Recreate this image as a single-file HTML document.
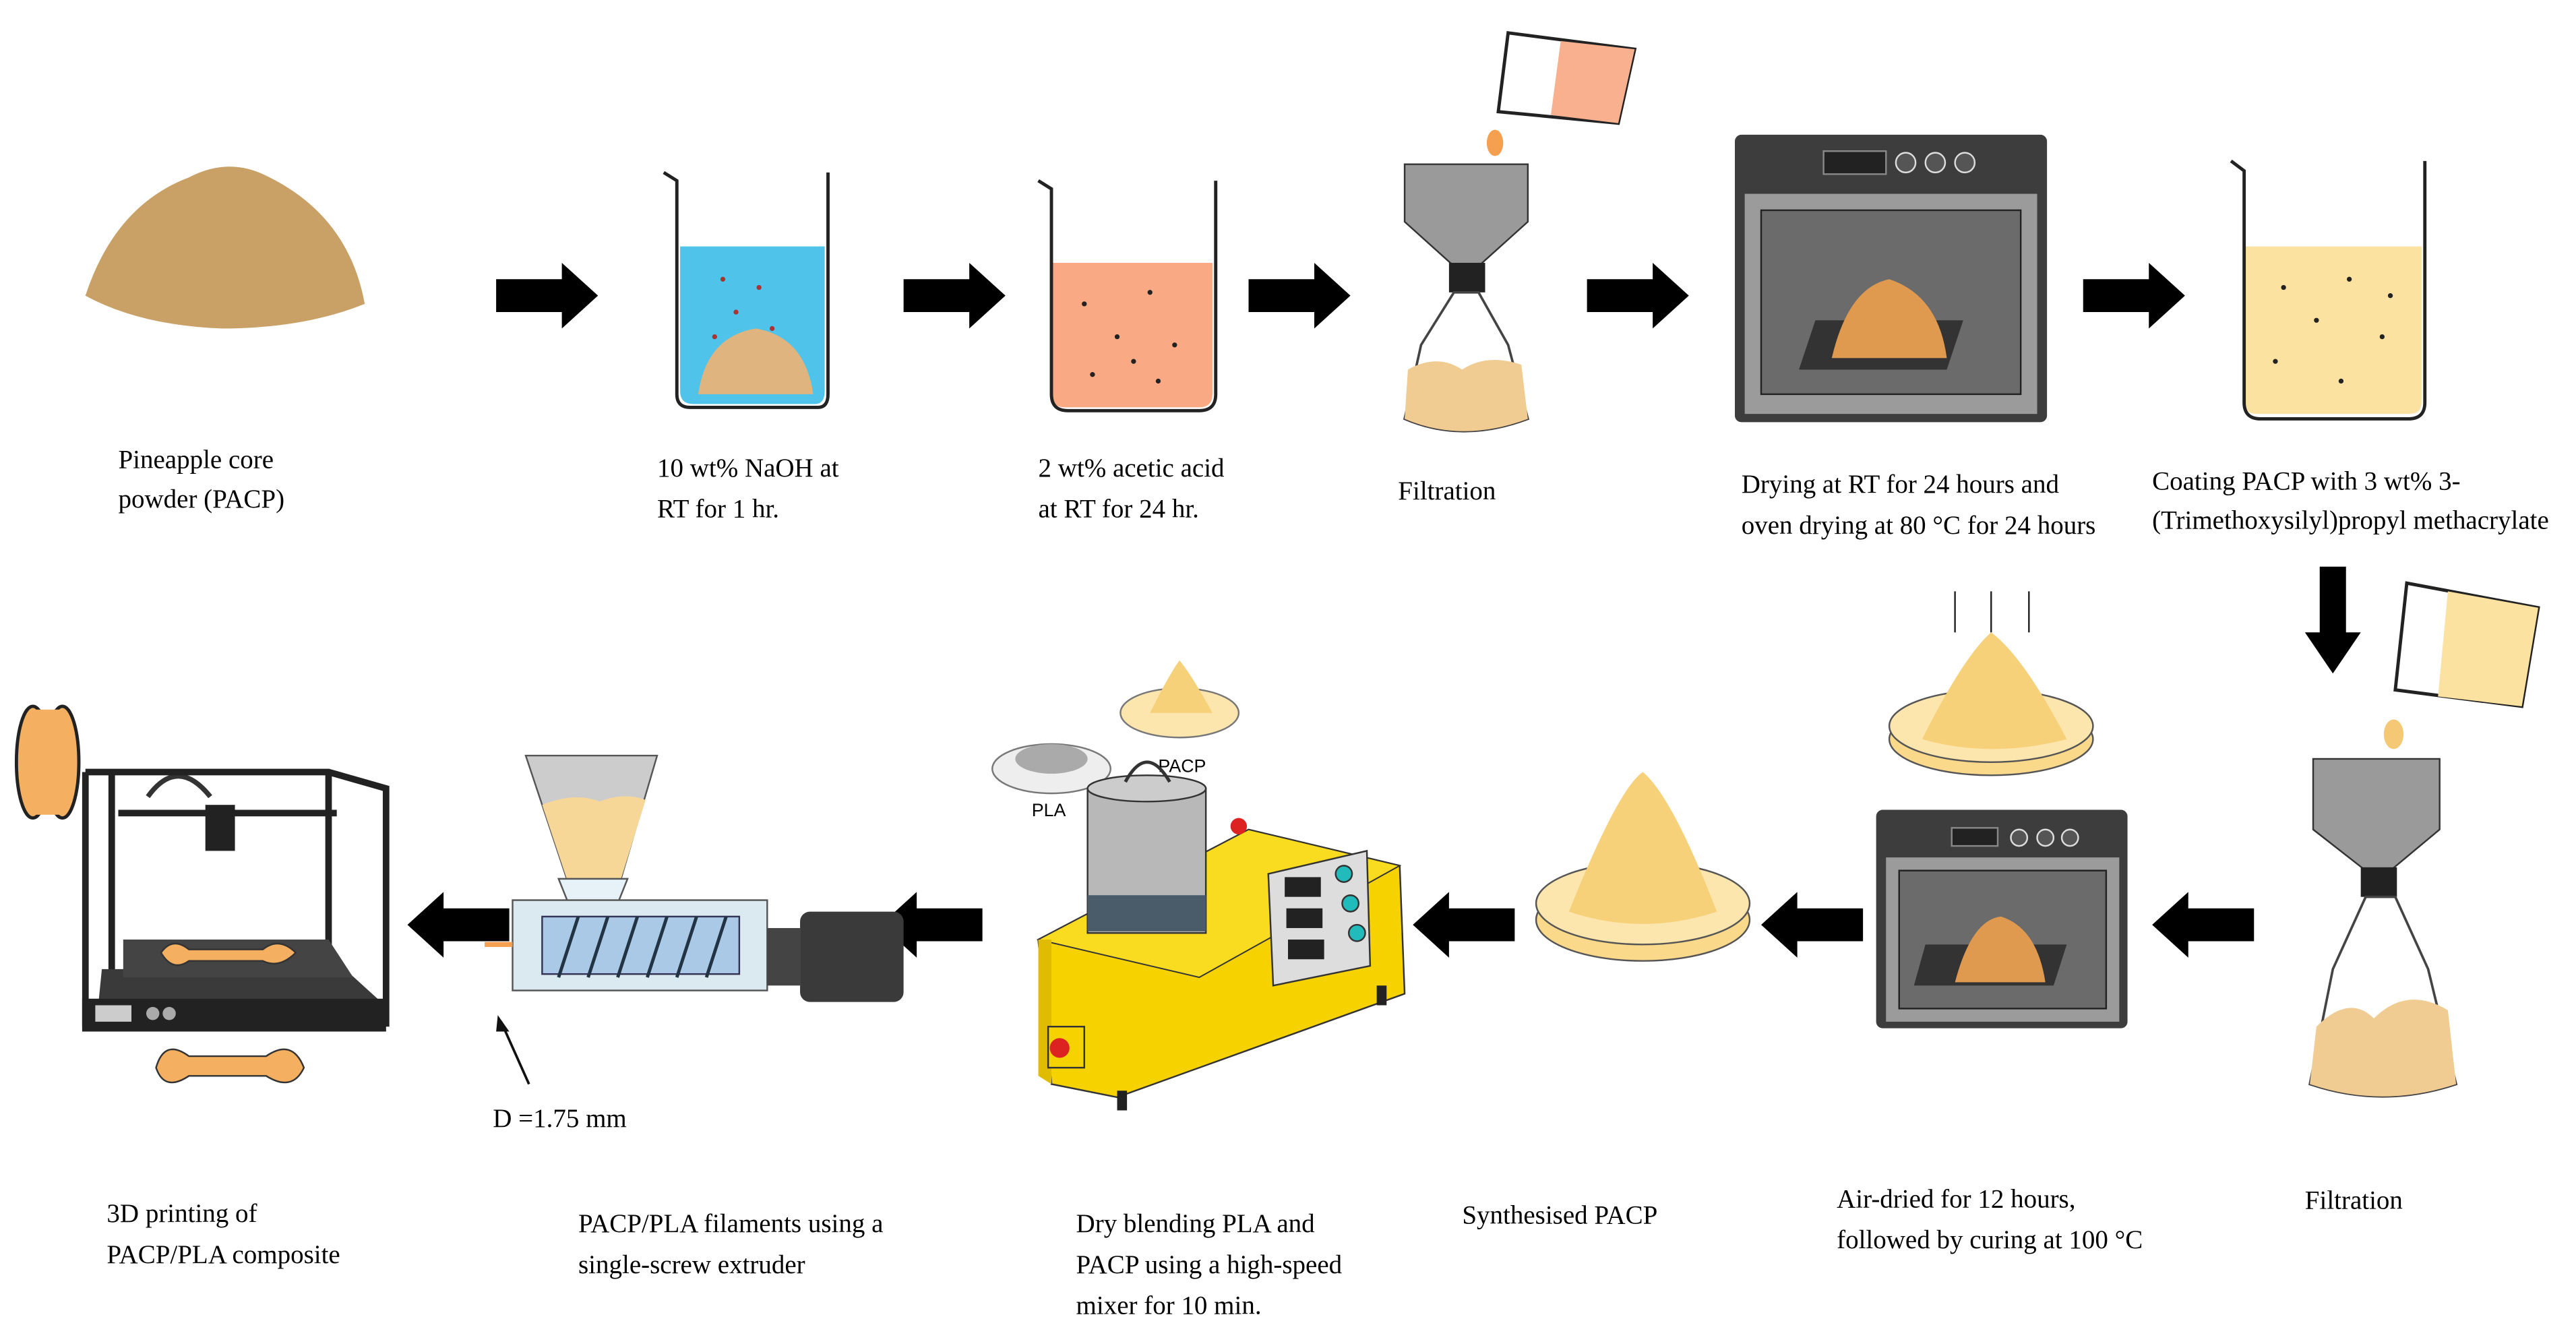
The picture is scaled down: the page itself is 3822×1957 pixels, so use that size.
<!DOCTYPE html>
<html><head><meta charset="utf-8"><style>
html,body{margin:0;padding:0;background:#fff;width:3822px;height:1957px;overflow:hidden}
svg{display:block}
</style></head><body>
<svg width="3822" height="1957" viewBox="0 0 1568 803" preserveAspectRatio="none" xmlns="http://www.w3.org/2000/svg" font-family="Liberation Serif, serif" font-size="16">
<defs>
<g id="arR"><polygon points="0,-10 40,-10 40,-20 62,0 40,20 40,10 0,10" fill="#000"/></g>
<g id="arL"><polygon points="0,-10 -40,-10 -40,-20 -62,0 -40,20 -40,10 0,10" fill="#000"/></g>
</defs>
<!-- powder -->
<path d="M52,180 Q70,125 115,108 Q138,96 160,106 Q212,130 222,185 Q185,200 135,200 Q85,198 52,180Z" fill="#c9a066"/>
<!-- arrows row1 -->
<use href="#arR" x="302" y="180"/><use href="#arR" x="550" y="180"/><use href="#arR" x="760" y="180"/><use href="#arR" x="966" y="180"/><use href="#arR" x="1268" y="180"/>
<!-- beaker1 -->
<path d="M414,150 L414,238 Q414,246 422,246 L496,246 Q502,246 502,238 L502,150Z" fill="#4fc3ea"/>
<path d="M425,240 Q430,205 460,200 Q490,205 495,240Z" fill="#e0b47e"/>
<path d="M404,105 L412,110 L412,240 Q412,248 420,248 L498,248 Q504,248 504,240 L504,105" fill="none" stroke="#222" stroke-width="2"/>
<g fill="#a33"><circle cx="440" cy="170" r="1.5"/><circle cx="462" cy="175" r="1.5"/><circle cx="448" cy="190" r="1.5"/><circle cx="470" cy="200" r="1.5"/><circle cx="435" cy="205" r="1.5"/></g>
<!-- beaker2 -->
<path d="M640,160 L640,240 Q640,248 648,248 L730,248 Q738,248 738,240 L738,160Z" fill="#f9a983"/>
<path d="M632,110 L640,115 L640,240 Q640,250 650,250 L730,250 Q740,250 740,240 L740,110" fill="none" stroke="#222" stroke-width="2"/>
<g fill="#222"><circle cx="660" cy="185" r="1.5"/><circle cx="700" cy="178" r="1.5"/><circle cx="680" cy="205" r="1.5"/><circle cx="715" cy="210" r="1.5"/><circle cx="665" cy="228" r="1.5"/><circle cx="705" cy="232" r="1.5"/><circle cx="690" cy="220" r="1.5"/></g>
<!-- filtration1 -->
<path d="M918,20 L995,30 L985,75 L912,68Z" fill="#fff" stroke="#222" stroke-width="2"/>
<path d="M950,25 L995,30 L985,75 L944,70Z" fill="#f8b08e"/>
<ellipse cx="910" cy="87" rx="5" ry="8" fill="#f4a050"/>
<path d="M855,100 L930,100 L930,135 L900,162 L885,162 L855,135Z" fill="#9a9a9a" stroke="#333"/>
<rect x="882" y="160" width="22" height="18" fill="#222"/>
<path d="M885,178 L865,210 L855,255 Q890,270 930,255 L918,210 L900,178Z" fill="#fff" stroke="#444" stroke-width="1.5"/>
<path d="M857,225 Q875,215 890,225 Q905,215 926,222 L930,255 Q890,270 855,255Z" fill="#f1cc92"/>
<!-- oven1 -->
<rect x="1056" y="82" width="190" height="175" rx="4" fill="#3d3d3d"/>
<rect x="1062" y="118" width="178" height="134" fill="#9b9b9b"/>
<rect x="1072" y="128" width="158" height="112" fill="#6b6b6b" stroke="#222"/>
<rect x="1110" y="92" width="38" height="14" fill="#222" stroke="#888"/>
<circle cx="1160" cy="99" r="6" fill="#555" stroke="#ddd"/><circle cx="1178" cy="99" r="6" fill="#555" stroke="#ddd"/><circle cx="1196" cy="99" r="6" fill="#555" stroke="#ddd"/>
<path d="M1095,225 L1185,225 L1195,195 L1105,195Z" fill="#333"/>
<path d="M1115,218 Q1125,175 1150,170 Q1180,180 1185,218Z" fill="#e09a50"/>
<!-- beaker3 -->
<path d="M1366,150 L1366,245 Q1366,252 1374,252 L1466,252 Q1474,252 1474,245 L1474,150Z" fill="#fbe2a0"/>
<path d="M1358,98 L1366,104 L1366,245 Q1366,255 1376,255 L1466,255 Q1476,255 1476,245 L1476,98" fill="none" stroke="#222" stroke-width="2"/>
<g fill="#222"><circle cx="1390" cy="175" r="1.5"/><circle cx="1430" cy="170" r="1.5"/><circle cx="1410" cy="195" r="1.5"/><circle cx="1450" cy="205" r="1.5"/><circle cx="1385" cy="220" r="1.5"/><circle cx="1425" cy="232" r="1.5"/><circle cx="1455" cy="180" r="1.5"/></g>
<!-- row1 labels -->
<text x="72" y="285">Pineapple core</text><text x="72" y="309">powder (PACP)</text>
<text x="400" y="290">10 wt% NaOH at</text><text x="400" y="315">RT for 1 hr.</text>
<text x="632" y="290">2 wt% acetic acid</text><text x="632" y="315">at RT for 24 hr.</text>
<text x="851" y="304">Filtration</text>
<text x="1060" y="300">Drying at RT for 24 hours and</text><text x="1060" y="325">oven drying at 80 °C for 24 hours</text>
<text x="1310" y="298">Coating PACP  with 3 wt% 3-</text><text x="1310" y="322">(Trimethoxysilyl)propyl methacrylate</text>
<!-- down arrow -->
<polygon points="1412,345 1428,345 1428,385 1437,385 1420,410 1403,385 1412,385" fill="#000"/>
<!-- filtration2 -->
<path d="M1465,355 L1545,370 L1535,430 L1458,420Z" fill="#fff" stroke="#222" stroke-width="2"/>
<path d="M1490,360 L1545,370 L1535,430 L1484,424Z" fill="#fbe2a0"/>
<ellipse cx="1457" cy="447" rx="6" ry="9" fill="#f4c874"/>
<path d="M1408,462 L1485,462 L1485,505 L1455,530 L1440,530 L1408,505Z" fill="#9a9a9a" stroke="#333"/>
<rect x="1437" y="528" width="22" height="18" fill="#222"/>
<path d="M1440,546 L1420,590 L1406,660 Q1450,675 1495,660 L1478,590 L1458,546Z" fill="#fff" stroke="#444" stroke-width="1.5"/>
<path d="M1410,625 Q1430,605 1445,620 Q1465,600 1490,615 L1495,660 Q1450,675 1406,660Z" fill="#f1cc92"/>
<!-- row2 arrows -->
<use href="#arL" x="1372" y="563"/><use href="#arL" x="1134" y="563"/><use href="#arL" x="922" y="563"/><use href="#arL" x="598" y="563"/><use href="#arL" x="310" y="563"/>
<!-- oven2 -->
<rect x="1142" y="493" width="153" height="133" rx="4" fill="#3d3d3d"/>
<rect x="1148" y="522" width="142" height="100" fill="#9b9b9b"/>
<rect x="1156" y="530" width="126" height="84" fill="#6b6b6b" stroke="#222"/>
<rect x="1188" y="504" width="28" height="11" fill="#222" stroke="#888"/>
<circle cx="1229" cy="510" r="5" fill="#555" stroke="#ddd"/><circle cx="1245" cy="510" r="5" fill="#555" stroke="#ddd"/><circle cx="1260" cy="510" r="5" fill="#555" stroke="#ddd"/>
<path d="M1165,600 L1250,600 L1258,575 L1172,575Z" fill="#333"/>
<path d="M1190,598 Q1200,560 1218,558 Q1240,565 1245,598Z" fill="#e09a50"/>
<!-- dish above oven -->
<g stroke="#222" stroke-width="1"><line x1="1190" y1="360" x2="1190" y2="385"/><line x1="1212" y1="360" x2="1212" y2="385"/><line x1="1235" y1="360" x2="1235" y2="385"/></g>
<ellipse cx="1212" cy="450" rx="62" ry="22" fill="#fbd98a" stroke="#555"/>
<ellipse cx="1212" cy="442" rx="62" ry="22" fill="#fde6ad" stroke="#555"/>
<path d="M1170,450 Q1195,400 1212,385 Q1232,400 1258,450 Q1212,462 1170,450Z" fill="#f7d07a"/>
<!-- synthesised PACP -->
<ellipse cx="1000" cy="560" rx="65" ry="25" fill="#fbd98a" stroke="#555"/>
<ellipse cx="1000" cy="550" rx="65" ry="25" fill="#fde6ad" stroke="#555"/>
<path d="M955,555 Q985,480 1000,470 Q1018,485 1045,555 Q1000,570 955,555Z" fill="#f7d07a"/>
<!-- mixer -->
<ellipse cx="640" cy="468" rx="36" ry="15" fill="#eee" stroke="#777"/>
<ellipse cx="640" cy="462" rx="22" ry="9" fill="#aaa"/>
<ellipse cx="718" cy="434" rx="36" ry="15" fill="#fde6ad" stroke="#777"/>
<path d="M700,434 Q712,410 718,402 Q726,412 738,434Z" fill="#f7d07a"/>
<text x="628" y="497" font-family="Liberation Sans, sans-serif" font-size="11">PLA</text>
<text x="705" y="470" font-family="Liberation Sans, sans-serif" font-size="11">PACP</text>
<line x1="690" y1="475" x2="695" y2="500" stroke="#222"/>
<polygon points="632,572 760,505 852,527 855,605 680,668 640,660" fill="#f6d300" stroke="#333"/>
<polygon points="632,572 760,505 852,527 730,595" fill="#f9dc20" stroke="#333" stroke-width="0.8"/>
<polygon points="632,572 640,572 640,660 632,655" fill="#e0bc00"/>
<rect x="662" y="480" width="72" height="88" fill="#b8b8b8" stroke="#333"/>
<rect x="662" y="545" width="72" height="22" fill="#4a5b6a"/>
<ellipse cx="698" cy="480" rx="36" ry="8" fill="#ccc" stroke="#333"/>
<path d="M685,476 Q698,452 712,476" fill="none" stroke="#333" stroke-width="2"/>
<polygon points="772,532 832,518 834,588 775,600" fill="#ddd" stroke="#333"/>
<rect x="782" y="534" width="22" height="12" fill="#222"/><rect x="783" y="553" width="22" height="12" fill="#222"/><rect x="784" y="572" width="22" height="12" fill="#222"/>
<circle cx="818" cy="532" r="5" fill="#2bb" stroke="#333"/><circle cx="822" cy="550" r="5" fill="#2bb" stroke="#333"/><circle cx="826" cy="568" r="5" fill="#2bb" stroke="#333"/>
<circle cx="754" cy="503" r="5" fill="#d22"/>
<rect x="638" y="625" width="22" height="25" fill="#f6d300" stroke="#333"/><circle cx="645" cy="638" r="6" fill="#d22"/>
<rect x="680" y="664" width="6" height="12" fill="#222"/><rect x="838" y="600" width="6" height="12" fill="#222"/>
<!-- extruder -->
<path d="M320,460 L400,460 L378,535 L345,535Z" fill="#ccc" stroke="#555"/>
<path d="M330,490 Q350,482 365,488 Q380,482 393,487 L378,535 L345,535Z" fill="#f7d798"/>
<path d="M340,535 L382,535 L372,560 L350,560Z" fill="#e6f2f7" stroke="#555"/>
<rect x="312" y="548" width="155" height="55" fill="#dbe9f0" stroke="#555"/>
<rect x="330" y="558" width="120" height="35" fill="#a9c9e6" stroke="#335"/>
<g stroke="#234" stroke-width="2"><line x1="340" y1="595" x2="352" y2="558"/><line x1="358" y1="595" x2="370" y2="558"/><line x1="376" y1="595" x2="388" y2="558"/><line x1="394" y1="595" x2="406" y2="558"/><line x1="412" y1="595" x2="424" y2="558"/><line x1="430" y1="595" x2="442" y2="558"/></g>
<rect x="467" y="565" width="20" height="35" fill="#444"/>
<rect x="487" y="555" width="63" height="55" rx="6" fill="#3a3a3a"/>
<line x1="295" y1="575" x2="312" y2="575" stroke="#f4a050" stroke-width="3"/>
<line x1="322" y1="660" x2="305" y2="622" stroke="#111" stroke-width="1.5"/><polygon points="303,618 310,628 302,628" fill="#111"/>
<text x="300" y="686">D =1.75 mm</text>
<!-- printer -->
<ellipse cx="20" cy="464" rx="10" ry="34" fill="#f4b060" stroke="#222" stroke-width="2"/>
<ellipse cx="38" cy="464" rx="10" ry="34" fill="#f4b060" stroke="#222" stroke-width="2"/>
<rect x="22" y="432" width="16" height="64" fill="#f4b060"/>
<path d="M90,485 Q108,460 128,485" fill="none" stroke="#333" stroke-width="3"/>
<g fill="none" stroke="#222" stroke-width="4">
<path d="M52,470 L200,470 L235,480 L235,625"/><path d="M52,470 L52,625"/><path d="M68,470 L68,605"/><path d="M200,470 L200,590"/><path d="M72,495 L205,495"/></g>
<rect x="125" y="490" width="18" height="28" fill="#222"/>
<path d="M62,590 L210,590 L232,610 L60,610Z" fill="#3a3a3a"/>
<path d="M75,572 L200,572 L215,595 L75,595Z" fill="#444"/>
<path d="M98,580 Q105,570 115,578 L160,578 Q170,570 180,580 Q170,590 160,585 L115,585 Q105,592 98,580Z" fill="#f4b060" stroke="#333"/>
<rect x="50" y="608" width="185" height="20" fill="#222"/>
<rect x="58" y="612" width="22" height="10" fill="#ccc"/><circle cx="93" cy="617" r="4" fill="#aaa"/><circle cx="103" cy="617" r="4" fill="#aaa"/>
<path d="M95,650 Q100,632 115,643 L162,643 Q178,632 185,650 Q178,665 162,655 L115,655 Q100,665 95,650Z" fill="#f4b060" stroke="#333"/>
<!-- row2 labels -->
<text x="65" y="744">3D printing of</text><text x="65" y="769">PACP/PLA composite</text>
<text x="352" y="750">PACP/PLA filaments using a</text><text x="352" y="775">single-screw extruder</text>
<text x="655" y="750">Dry blending  PLA and</text><text x="655" y="775">PACP using a high-speed</text><text x="655" y="800">mixer for 10 min.</text>
<text x="890" y="745">Synthesised PACP</text>
<text x="1118" y="735">Air-dried for 12 hours,</text><text x="1118" y="760">followed by curing at 100 °C</text>
<text x="1403" y="736">Filtration</text>
</svg>
</body></html>
